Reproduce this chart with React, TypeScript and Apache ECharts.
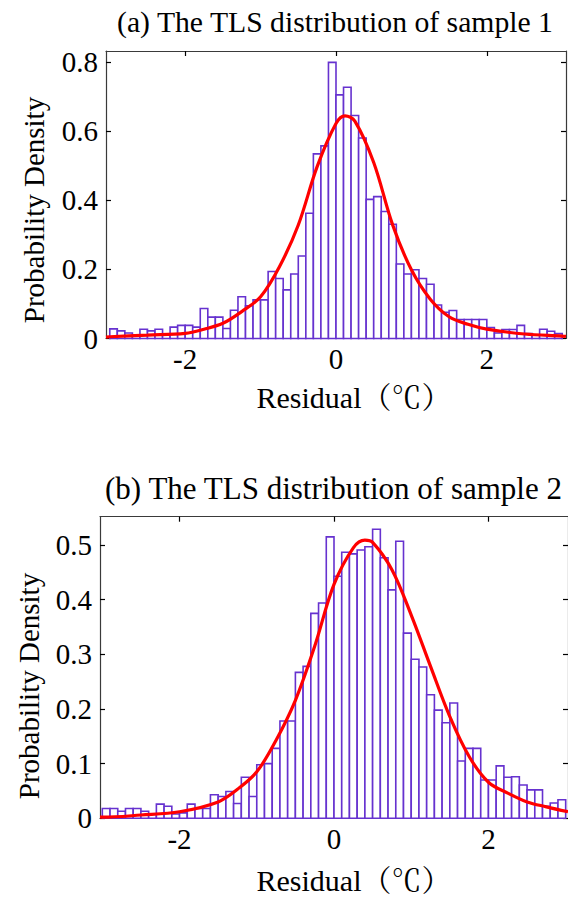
import React, { useEffect, useRef } from "react";
import * as echarts from "echarts";

// Histogram bins: left edges start at BIN_START, each BIN_WIDTH wide
const BIN_START = -3.0;
const BIN_WIDTH = 0.1;

const density1 = [
  0.028, 0.022, 0.016, 0.009, 0.027, 0.022, 0.027, 0.012, 0.033, 0.038,
  0.038, 0.033, 0.087, 0.062, 0.062, 0.029, 0.082, 0.121, 0.095, 0.112,
  0.112, 0.194, 0.174, 0.141, 0.187, 0.239, 0.363, 0.535, 0.558, 0.8,
  0.706, 0.728, 0.646, 0.581, 0.403, 0.411, 0.368, 0.331, 0.216, 0.187,
  0.199, 0.174, 0.157, 0.097, 0.076, 0.081, 0.055, 0.055, 0.055, 0.055,
  0.032, 0.016, 0.026, 0.026, 0.038, 0.014, 0.01, 0.027, 0.021, 0.014,
];

const density2 = [
  0.018, 0.018, 0.013, 0.018, 0.018, 0.013, 0.008, 0.026, 0.022, 0.008,
  0.01, 0.026, 0.018, 0.018, 0.043, 0.04, 0.049, 0.027, 0.075, 0.04,
  0.098, 0.1, 0.128, 0.178, 0.178, 0.267, 0.278, 0.375, 0.394, 0.515,
  0.443, 0.487, 0.484, 0.491, 0.497, 0.529, 0.477, 0.418, 0.507, 0.339,
  0.291, 0.277, 0.226, 0.198, 0.175, 0.211, 0.105, 0.128, 0.128, 0.07,
  0.07, 0.096, 0.075, 0.076, 0.061, 0.052, 0.052, 0.022, 0.028, 0.034,
];

const fit1: [number, number][] = [
  [-3.05, 0.004], [-3.0, 0.005], [-2.5, 0.01], [-2.0, 0.015], [-1.75, 0.027],
  [-1.5, 0.044], [-1.25, 0.078], [-1.0, 0.121], [-0.75, 0.208], [-0.5, 0.329],
  [-0.25, 0.498], [0, 0.623], [0.12, 0.645], [0.25, 0.63], [0.5, 0.51],
  [0.75, 0.33], [1.0, 0.199], [1.25, 0.114], [1.5, 0.063], [1.75, 0.041],
  [2.0, 0.027], [2.5, 0.013], [3.0, 0.007], [3.05, 0.006],
];

const fit2: [number, number][] = [
  [-3.03, 0.002], [-3.0, 0.002], [-2.5, 0.006], [-2.0, 0.012], [-1.5, 0.03],
  [-1.25, 0.053], [-1.0, 0.085], [-0.75, 0.143], [-0.5, 0.216], [-0.25, 0.315],
  [0, 0.428], [0.25, 0.495], [0.4, 0.509], [0.5, 0.505], [0.75, 0.455],
  [1.0, 0.372], [1.25, 0.278], [1.5, 0.186], [1.75, 0.113], [2.0, 0.066],
  [2.25, 0.046], [2.5, 0.03], [2.75, 0.021], [3.03, 0.012],
];

const xTicks = [-2, 0, 2];
const yTicks1 = [0, 0.2, 0.4, 0.6, 0.8];
const yTicks2 = [0, 0.1, 0.2, 0.3, 0.4, 0.5];

const titles = ["(a) The TLS distribution of sample 1", "(b) The TLS distribution of sample 2"];
const xName = "Residual（℃）";
const yName = "Probability Density";

const FONT = "'Liberation Serif', 'Times New Roman', 'Noto Serif CJK SC', 'Noto Sans CJK SC', serif";
const BAR_COLOR = "#6632cf";
const AXIS_COLOR = "#3a3a3a";

function binsOf(d: number[]) {
  return d.map((h, i) => [BIN_START + i * BIN_WIDTH, BIN_START + (i + 1) * BIN_WIDTH, h]);
}

export default function App() {
  const ref = useRef<HTMLDivElement>(null);
  useEffect(() => {
    if (!ref.current) return;
    const chart = echarts.init(ref.current, undefined, { renderer: "svg" });

    const tickFont = { fontFamily: FONT, fontSize: 29, color: "#000" };

    const mkX = (grid: number, min: number, max: number, top: boolean) => ({
      type: "value",
      gridIndex: grid,
      min,
      max,
      position: top ? "top" : "bottom",
      axisLine: { show: true, onZero: false, lineStyle: { color: AXIS_COLOR, width: 1.2 } },
      axisTick: { show: true, inside: true, length: 5, customValues: xTicks, lineStyle: { color: "#000", width: 1.2 } },
      axisLabel: top ? { show: false } : { show: true, customValues: xTicks, margin: 6, ...tickFont },
      splitLine: { show: false },
    });
    const mkY = (grid: number, max: number, ticks: number[], right: boolean) => ({
      type: "value",
      gridIndex: grid,
      min: 0,
      max,
      position: right ? "right" : "left",
      axisLine: { show: true, onZero: false, lineStyle: { color: AXIS_COLOR, width: 1.2 } },
      axisTick: { show: true, inside: true, length: 5, customValues: ticks, lineStyle: { color: "#000", width: 1.2 } },
      axisLabel: right ? { show: false } : { show: true, customValues: ticks, margin: 8, ...tickFont },
      splitLine: { show: false },
    });

    const histSeries = (data: number[][], xi: number, yi: number) => ({
      type: "custom",
      xAxisIndex: xi,
      yAxisIndex: yi,
      encode: { x: [0, 1], y: 2 },
      data,
      z: 2,
      renderItem: (_p: any, api: any) => {
        const p0 = api.coord([api.value(0), 0]);
        const p1 = api.coord([api.value(1), api.value(2)]);
        return {
          type: "rect",
          shape: { x: p0[0], y: p1[1], width: p1[0] - p0[0], height: p0[1] - p1[1] },
          style: { fill: "#ffffff", stroke: BAR_COLOR, lineWidth: 1.6 },
        };
      },
    });
    const fitSeries = (data: [number, number][], xi: number, yi: number) => ({
      type: "line",
      xAxisIndex: xi,
      yAxisIndex: yi,
      data,
      smooth: 0.35,
      showSymbol: false,
      symbol: "none",
      z: 5,
      lineStyle: { color: "#ff0000", width: 3.2 },
    });

    const txt = (text: string, x: number, y: number, size: number, rotate = false) => ({
      type: "text",
      x,
      y,
      rotation: rotate ? Math.PI / 2 : 0,
      style: {
        text,
        fontFamily: FONT,
        fontSize: size,
        fill: "#000",
        textAlign: "center",
        textVerticalAlign: "middle",
      },
    });

    chart.setOption({
      animation: false,
      backgroundColor: "#ffffff",
      grid: [
        { left: 106, right: 2, top: 51, height: 287.5 },
        { left: 100, right: -4.7, top: 516.7, height: 301.6 },
      ],
      xAxis: [
        mkX(0, -3.05, 3.05, false),
        mkX(0, -3.05, 3.05, true),
        mkX(1, -3.03, 3.03, false),
        mkX(1, -3.03, 3.03, true),
      ],
      yAxis: [
        mkY(0, 0.833, yTicks1, false),
        mkY(0, 0.833, yTicks1, true),
        mkY(1, 0.552, yTicks2, false),
        mkY(1, 0.552, yTicks2, true),
      ],
      series: [
        histSeries(binsOf(density1), 0, 0),
        fitSeries(fit1, 0, 0),
        histSeries(binsOf(density2), 2, 2),
        fitSeries(fit2, 2, 2),
      ],
      graphic: [
        txt(titles[0], 335, 22, 29.7),
        txt(titles[1], 333.5, 488, 31),
        txt(yName, 34, 210, 29, true),
        txt(yName, 29, 686, 29, true),
        txt(xName, 354, 397, 30),
        txt(xName, 354, 880, 30),
      ],
    });
    return () => chart.dispose();
  }, []);
  return <div ref={ref} style={{ position: "absolute", left: 0, top: 0, width: 568, height: 899 }} />;
}
